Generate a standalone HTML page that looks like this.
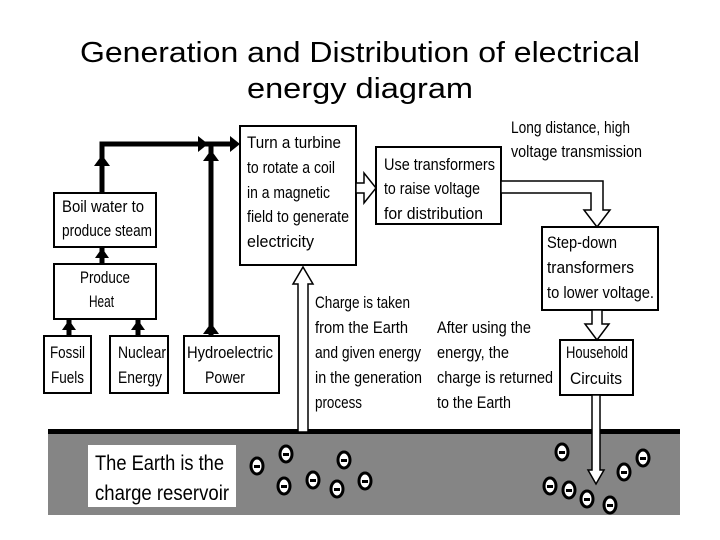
<!DOCTYPE html>
<html><head><meta charset="utf-8"><style>
html,body{margin:0;padding:0;background:#fff;}
svg{display:block;}
.t{font-family:"Liberation Sans",sans-serif;font-size:17px;fill:#000;}
.h{font-family:"Liberation Sans",sans-serif;font-size:29px;fill:#000;}
</style></head><body>
<svg width="720" height="540" viewBox="0 0 720 540" xmlns="http://www.w3.org/2000/svg">
<text class="h" x="360" y="62" text-anchor="middle" textLength="560" lengthAdjust="spacingAndGlyphs">Generation and Distribution of electrical</text>
<text class="h" x="360" y="98" text-anchor="middle" textLength="226" lengthAdjust="spacingAndGlyphs">energy diagram</text>

<!-- earth -->
<rect x="48" y="431" width="632" height="84" fill="#858585"/>
<rect x="48" y="429" width="632" height="5" fill="#000"/>
<rect x="88" y="445" width="148" height="62" fill="#fff"/>
<text class="t" style="font-size:21px" x="95" y="470" textLength="129" lengthAdjust="spacingAndGlyphs">The Earth is the</text>
<text class="t" style="font-size:21px" x="95" y="500" textLength="134" lengthAdjust="spacingAndGlyphs">charge reservoir</text>

<g fill="#fff" stroke="#000" stroke-width="3">
<ellipse cx="257" cy="466" rx="6" ry="8"/>
<ellipse cx="286" cy="454" rx="6" ry="8"/>
<ellipse cx="284" cy="486" rx="6" ry="8"/>
<ellipse cx="313" cy="480" rx="6" ry="8"/>
<ellipse cx="337" cy="489" rx="6" ry="8"/>
<ellipse cx="344" cy="460" rx="6" ry="8"/>
<ellipse cx="365" cy="481" rx="6" ry="8"/>
<ellipse cx="562" cy="452" rx="6" ry="8"/>
<ellipse cx="550" cy="486" rx="6" ry="8"/>
<ellipse cx="569" cy="490" rx="6" ry="8"/>
<ellipse cx="587" cy="499" rx="6" ry="8"/>
<ellipse cx="610" cy="505" rx="6" ry="8"/>
<ellipse cx="624" cy="472" rx="6" ry="8"/>
<ellipse cx="643" cy="458" rx="6" ry="8"/>
</g>
<g fill="#000">
<rect x="254" y="465" width="6" height="3"/><rect x="283" y="453" width="6" height="3"/><rect x="281" y="485" width="6" height="3"/>
<rect x="310" y="479" width="6" height="3"/><rect x="334" y="488" width="6" height="3"/><rect x="341" y="459" width="6" height="3"/>
<rect x="362" y="480" width="6" height="3"/><rect x="559" y="451" width="6" height="3"/><rect x="547" y="485" width="6" height="3"/>
<rect x="566" y="489" width="6" height="3"/><rect x="584" y="498" width="6" height="3"/><rect x="607" y="504" width="6" height="3"/>
<rect x="621" y="471" width="6" height="3"/><rect x="640" y="457" width="6" height="3"/>
</g>

<!-- thick connectors -->
<g stroke="#000" stroke-width="5" fill="none">
<polyline points="102,193 102,144 236,144"/>
<line x1="211" y1="336" x2="211" y2="144"/>
<line x1="102" y1="264" x2="102" y2="247"/>
<line x1="69" y1="336" x2="69" y2="319"/>
<line x1="138" y1="336" x2="138" y2="319"/>
</g>
<g fill="#000">
<polygon points="240,144 230,136 230,152"/>
<polygon points="208,144 198,136 198,152"/>
<polygon points="102,155 94,166 110,166"/>
<polygon points="211,150 203,161 219,161"/>
<polygon points="211,323 203,334 219,334"/>
<polygon points="102,248 95,258 109,258"/>
<polygon points="69,320 62,330 76,330"/>
<polygon points="138,320 131,330 145,330"/>
</g>

<!-- boxes -->
<g fill="#fff" stroke="#000" stroke-width="2">
<rect x="240" y="126" width="116" height="139"/>
<rect x="54" y="193" width="102" height="54"/>
<rect x="54" y="264" width="102" height="55"/>
<rect x="44" y="336" width="47" height="57"/>
<rect x="110" y="336" width="58" height="57"/>
<rect x="184" y="336" width="95" height="57"/>
<rect x="376" y="147" width="125" height="77"/>
<rect x="542" y="227" width="116" height="83"/>
<rect x="560" y="340" width="73" height="55"/>
</g>

<!-- hollow arrows -->
<g fill="#fff" stroke="#000" stroke-width="1.5">
<polygon points="356,183 364,183 364,173 376,188 364,203 364,193 356,193"/>
<polygon points="298,432 298,284 293,284 303,267 313,284 308,284 308,432"/>
<polygon points="501,181 603,181 603,210 610,210 597,227 584,210 591,210 591,193 501,193"/>
<polygon points="592,310 602,310 602,324 609,324 597,340 585,324 592,324"/>
<polygon points="592,395 600,395 600,470 604,470 596,484 588,470 592,470"/>
</g>

<!-- text -->
<g class="t">
<text class="t" x="247" y="148" textLength="94" lengthAdjust="spacingAndGlyphs">Turn a turbine</text>
<text class="t" x="247" y="173" textLength="88" lengthAdjust="spacingAndGlyphs">to rotate a coil</text>
<text class="t" x="247" y="198" textLength="83" lengthAdjust="spacingAndGlyphs">in a magnetic</text>
<text class="t" x="247" y="222" textLength="102" lengthAdjust="spacingAndGlyphs">field to generate</text>
<text class="t" x="247" y="247" textLength="67" lengthAdjust="spacingAndGlyphs">electricity</text>
<text class="t" x="62" y="212" textLength="82" lengthAdjust="spacingAndGlyphs">Boil water to</text>
<text class="t" x="62" y="236" textLength="90" lengthAdjust="spacingAndGlyphs">produce steam</text>
<text class="t" x="80" y="283" textLength="50" lengthAdjust="spacingAndGlyphs">Produce</text>
<text class="t" x="89" y="307" textLength="25" lengthAdjust="spacingAndGlyphs">Heat</text>
<text class="t" x="50" y="358" textLength="35" lengthAdjust="spacingAndGlyphs">Fossil</text>
<text class="t" x="51" y="383" textLength="33" lengthAdjust="spacingAndGlyphs">Fuels</text>
<text class="t" x="118" y="358" textLength="48" lengthAdjust="spacingAndGlyphs">Nuclear</text>
<text class="t" x="118" y="383" textLength="44" lengthAdjust="spacingAndGlyphs">Energy</text>
<text class="t" x="187" y="358" textLength="86" lengthAdjust="spacingAndGlyphs">Hydroelectric</text>
<text class="t" x="205" y="383" textLength="40" lengthAdjust="spacingAndGlyphs">Power</text>
<text class="t" x="384" y="170" textLength="111" lengthAdjust="spacingAndGlyphs">Use transformers</text>
<text class="t" x="384" y="194" textLength="96" lengthAdjust="spacingAndGlyphs">to raise voltage</text>
<text class="t" x="384" y="219" textLength="99" lengthAdjust="spacingAndGlyphs">for distribution</text>
<text class="t" x="511" y="133" textLength="119" lengthAdjust="spacingAndGlyphs">Long distance, high</text>
<text class="t" x="511" y="157" textLength="131" lengthAdjust="spacingAndGlyphs">voltage transmission</text>
<text class="t" x="547" y="248" textLength="70" lengthAdjust="spacingAndGlyphs">Step-down</text>
<text class="t" x="547" y="273" textLength="87" lengthAdjust="spacingAndGlyphs">transformers</text>
<text class="t" x="547" y="298" textLength="107" lengthAdjust="spacingAndGlyphs">to lower voltage.</text>
<text class="t" x="566" y="358" textLength="62" lengthAdjust="spacingAndGlyphs">Household</text>
<text class="t" x="570" y="384" textLength="52" lengthAdjust="spacingAndGlyphs">Circuits</text>
<text class="t" x="315" y="308" textLength="95" lengthAdjust="spacingAndGlyphs">Charge is taken</text>
<text class="t" x="315" y="333" textLength="93" lengthAdjust="spacingAndGlyphs">from the Earth</text>
<text class="t" x="315" y="358" textLength="106" lengthAdjust="spacingAndGlyphs">and given energy</text>
<text class="t" x="315" y="383" textLength="107" lengthAdjust="spacingAndGlyphs">in the generation</text>
<text class="t" x="315" y="408" textLength="47" lengthAdjust="spacingAndGlyphs">process</text>
<text class="t" x="437" y="333" textLength="94" lengthAdjust="spacingAndGlyphs">After using the</text>
<text class="t" x="437" y="358" textLength="72" lengthAdjust="spacingAndGlyphs">energy, the</text>
<text class="t" x="437" y="383" textLength="116" lengthAdjust="spacingAndGlyphs">charge is returned</text>
<text class="t" x="437" y="408" textLength="74" lengthAdjust="spacingAndGlyphs">to the Earth</text>
</g>
</svg>
</body></html>
